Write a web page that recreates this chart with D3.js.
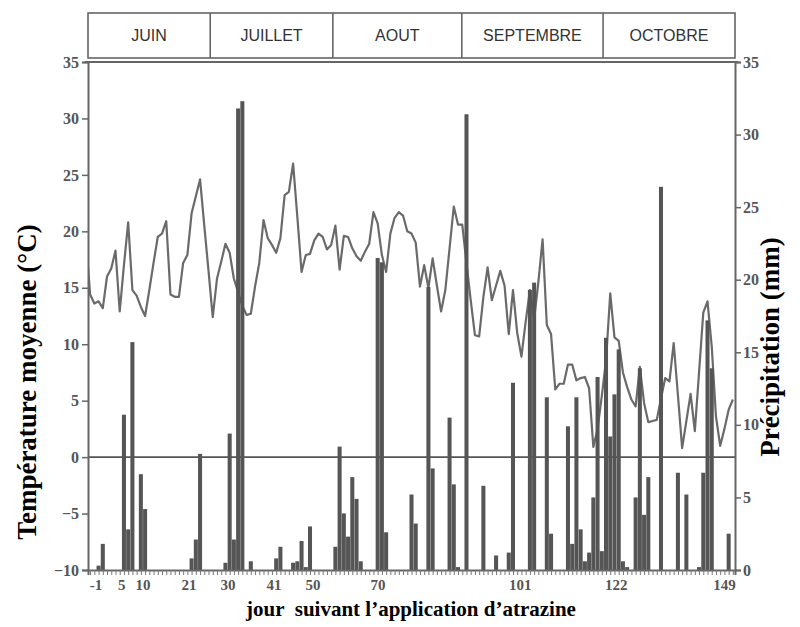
<!DOCTYPE html>
<html><head><meta charset="utf-8">
<script src="https://cdn.jsdelivr.net/npm/d3@7"></script>
<style>body{margin:0;background:#fff}</style>
</head><body>
<svg id="c" width="800" height="627"></svg>
<script>
// ---- data ----
const months = ["JUIN","JUILLET","AOUT","SEPTEMBRE","OCTOBRE"];
const monthBounds = [-3.5, 25.4, 54.4, 84.9, 118.3, 149.5];
const tempStartDay = -4;
const temps = [
 19.4,14.4,13.6,13.8,13.2,16.0,16.7,18.3,12.9,17.0,
 20.8,14.8,14.3,13.3,12.5,14.8,17.2,19.5,19.8,20.9,
 14.4,14.2,14.2,17.2,17.9,21.6,23.1,24.6,20.5,16.5,
 12.4,15.8,17.3,18.9,18.1,15.8,14.6,13.4,12.6,12.7,
 15.1,17.2,21.0,19.4,18.8,18.1,19.4,23.2,23.5,26.0,
 21.3,16.4,17.9,18.0,19.2,19.8,19.5,18.4,18.8,20.5,
 16.6,19.6,19.5,18.5,17.8,17.4,18.2,18.9,21.7,20.7,
 17.9,16.4,19.8,21.2,21.7,21.4,20.0,19.8,19.0,15.1,
 17.0,15.0,17.6,15.2,12.9,14.8,18.5,22.2,20.6,20.6,
 17.2,13.9,10.8,10.7,14.2,16.8,13.9,15.2,16.5,15.2,
 10.9,14.8,11.0,8.9,12.0,14.8,12.2,15.5,19.3,11.7,
 10.9,6.0,6.5,6.5,8.2,8.2,6.8,7.0,7.1,6.1,
 0.9,2.5,5.4,8.6,14.5,10.6,10.3,7.5,6.2,5.1,
 4.5,8.0,4.8,3.1,3.2,3.3,5.2,7.0,6.7,10.1,
 5.5,0.8,3.2,5.6,2.3,7.5,12.8,13.8,9.8,3.6,
 1.0,2.5,4.2,5.1
];
const precipDays = [-1,0,5,6,7,9,10,21,22,23,29,30,31,32,33,35,41,42,45,46,47,48,49,
  55,56,57,58,59,60,61,65,66,67,73,74,77,78,82,83,84,86,90,93,96,97,101,102,105,106,
  110,111,112,113,114,115,116,117,118,119,120,121,122,123,124,126,127,128,129,132,
  136,138,141,142,143,144,148];
const precipValues = [0.3,1.8,10.7,2.8,15.7,6.6,4.2,0.8,2.1,8.0,0.5,9.4,2.1,31.8,32.3,0.6,0.8,1.6,0.5,0.6,2.0,0.2,3.0,
  1.6,8.5,3.9,2.3,6.4,4.9,0.6,21.5,21.2,2.6,5.2,3.2,19.5,7.0,10.5,5.9,0.2,31.4,5.8,1.0,1.2,12.9,19.3,19.8,11.9,2.5,
  9.9,1.8,11.9,2.8,0.6,1.2,5.0,13.3,1.3,16.0,9.2,12.1,15.2,0.6,0.2,5.0,13.9,3.8,6.4,26.4,
  6.7,5.2,0.2,6.7,17.2,13.9,2.5];
const tempTicks = [-10,-5,0,5,10,15,20,25,30,35];
const precipTicks = [0,5,10,15,20,25,30,35];
const dayLabels = ["-1","5","10","21","30","41","50","70","101","122","149"];
const dayLabelPos = [-1.6,4.5,9.5,20.4,29.6,40.5,49.7,65.1,98.7,121.4,147.0];

// ---- layout ----
const L = 88, R = 735, T = 62, B = 570;
const svg = d3.select("#c");
const x = d3.scaleLinear().domain([monthBounds[0], monthBounds[monthBounds.length-1]]).range([L, R]);
const yT = d3.scaleLinear().domain([-10, 35]).range([B, T]);
const yP = d3.scaleLinear().domain([0, 35]).range([B, T]);
const axisCol = "#666";
const serif = "'Liberation Serif','Times New Roman',serif";
const sans = "'Liberation Sans',Arial,sans-serif";

svg.append("defs").append("clipPath").attr("id","plot")
  .append("rect").attr("x", L).attr("y", T).attr("width", R-L).attr("height", B-T);

// month boxes
const mb = svg.append("g");
mb.append("rect").attr("x", x(monthBounds[0])).attr("y", 13)
  .attr("width", x(monthBounds[5]) - x(monthBounds[0])).attr("height", 45)
  .attr("fill","none").attr("stroke", axisCol).attr("stroke-width", 1.6);
monthBounds.slice(1, -1).forEach(b => {
  mb.append("line").attr("x1", x(b)).attr("x2", x(b)).attr("y1", 13).attr("y2", 58)
    .attr("stroke", axisCol).attr("stroke-width", 1.6);
});
months.forEach((m, i) => {
  mb.append("text").attr("x", (x(monthBounds[i]) + x(monthBounds[i+1]))/2).attr("y", 41)
    .attr("text-anchor","middle").attr("font-family", sans).attr("font-size", 16)
    .attr("fill","#333").text(m);
});

// temperature line (behind bars)
const tempData = temps.map((t, i) => ({d: tempStartDay + i, t}));
svg.append("path").datum(tempData).attr("clip-path","url(#plot)")
  .attr("fill","none").attr("stroke","#6a6a6a").attr("stroke-width", 2.2)
  .attr("stroke-linejoin","round")
  .attr("d", d3.line().x(p => x(p.d)).y(p => yT(p.t)));

// zero line
svg.append("line").attr("x1", L).attr("x2", R).attr("y1", yT(0)).attr("y2", yT(0))
  .attr("stroke","#555").attr("stroke-width", 1.6);

// precipitation bars
const bw = x(1) - x(0);
svg.append("g").selectAll("rect").data(precipDays.map((d, i) => ({d, v: precipValues[i]})))
  .join("rect")
  .attr("x", p => x(p.d) - bw/2 + 0.1).attr("width", bw - 0.2)
  .attr("y", p => yP(p.v)).attr("height", p => yP(0) - yP(p.v))
  .attr("fill","#555");

// frame
svg.append("line").attr("x1", L - 3).attr("x2", R + 3).attr("y1", T).attr("y2", T).attr("stroke", axisCol).attr("stroke-width", 2);

// left axis
const la = svg.append("g").attr("transform", `translate(${L},0)`)
  .call(d3.axisLeft(yT).tickValues(tempTicks).tickSize(6).tickPadding(3).tickFormat(d3.format("d")));
la.select(".domain").attr("stroke", axisCol).attr("stroke-width", 2);
la.selectAll(".tick line").attr("stroke", axisCol).attr("stroke-width", 1.5);
la.selectAll("text").attr("font-family", serif).attr("font-size", 16).attr("fill","#555").attr("font-weight","bold");

// right axis
const ra = svg.append("g").attr("transform", `translate(${R},0)`)
  .call(d3.axisRight(yP).tickValues(precipTicks).tickSize(6).tickPadding(2).tickFormat(d3.format("d")));
ra.select(".domain").attr("stroke", axisCol).attr("stroke-width", 2);
ra.selectAll(".tick line").attr("stroke", axisCol).attr("stroke-width", 1.5);
ra.selectAll("text").attr("font-family", serif).attr("font-size", 16).attr("fill","#555").attr("font-weight","bold");

// bottom axis: daily minor ticks
const ba = svg.append("g").attr("transform", `translate(0,${B})`)
  .call(d3.axisBottom(x).tickValues(d3.range(-3, 150)).tickSize(5).tickFormat(""));
ba.select(".domain").attr("stroke", axisCol).attr("stroke-width", 2);
ba.selectAll(".tick line").attr("stroke", "#777").attr("stroke-width", 1);
// day labels
svg.append("g").selectAll("text").data(dayLabels).join("text")
  .attr("x", (d, i) => x(dayLabelPos[i])).attr("y", 590)
  .attr("text-anchor","middle").attr("font-family", serif).attr("font-size", 15)
  .attr("font-weight","bold").attr("fill","#555").text(d => d);

// axis titles
svg.append("text").attr("transform", "translate(36,382) rotate(-90)")
  .attr("text-anchor","middle").attr("font-family", serif).attr("font-size", 27)
  .attr("font-weight","bold").attr("fill","#000").text("Température moyenne (°C)");
svg.append("text").attr("transform", "translate(779,347) rotate(-90)")
  .attr("text-anchor","middle").attr("font-family", serif).attr("font-size", 27)
  .attr("font-weight","bold").attr("fill","#000").text("Précipitation (mm)");
svg.append("text").attr("x", 411).attr("y", 616).attr("text-anchor","middle")
  .attr("font-family", serif).attr("font-size", 21).attr("font-weight","bold")
  .attr("fill","#000").style("white-space","pre").text("jour  suivant l’application d’atrazine");
</script>
</body></html>
